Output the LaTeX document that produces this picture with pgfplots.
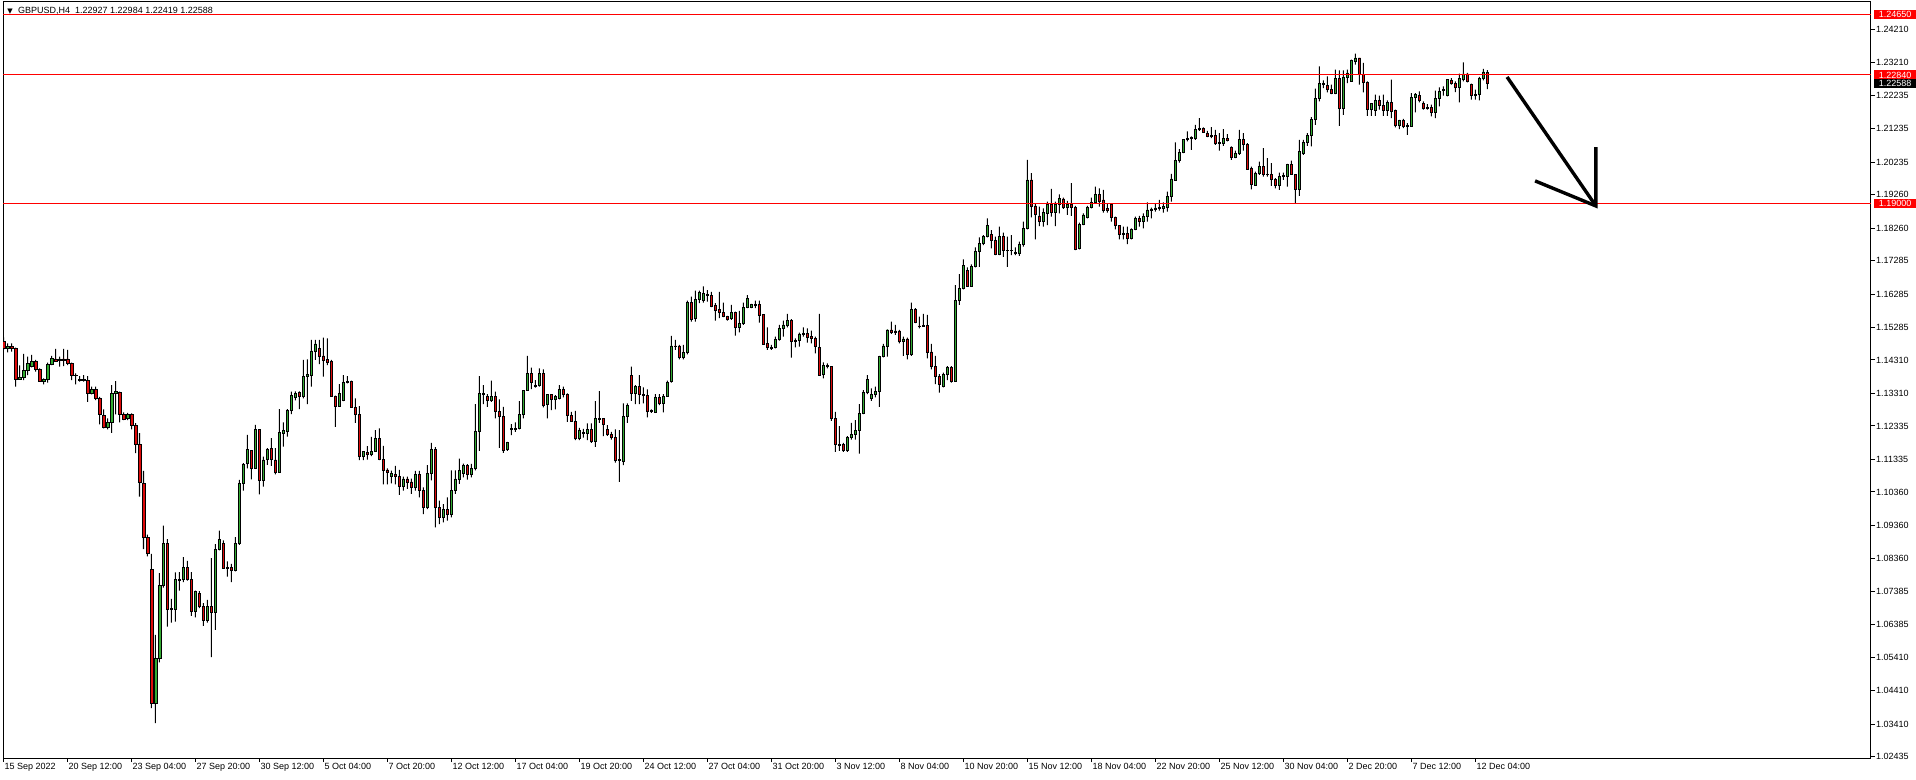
\documentclass[border=0pt]{standalone}
\usepackage{pgfplots}
\usepackage{pgfplotstable}
\pgfplotsset{compat=1.18}
\usepackage{fontspec}
\setmainfont{Liberation Sans}
\newfontfamily\dejavu{DejaVu Sans}
\definecolor{bull}{RGB}{50,170,50}
\definecolor{bear}{RGB}{220,10,10}
\definecolor{lvl}{RGB}{255,0,0}

\pgfplotstableread{
i o h l c
0 1.1486 1.1499 1.1461 1.1466
1 1.1466 1.1481 1.1454 1.1472
2 1.1472 1.1481 1.1456 1.1466
3 1.1466 1.1468 1.1351 1.1373
4 1.1373 1.1415 1.1372 1.1380
5 1.1379 1.1449 1.1371 1.1401
6 1.1401 1.1441 1.1386 1.1421
7 1.1411 1.1446 1.1409 1.1428
8 1.1428 1.1431 1.1396 1.1403
9 1.1404 1.1406 1.1366 1.1367
10 1.1367 1.1376 1.1358 1.1374
11 1.1373 1.1423 1.1363 1.1418
12 1.1418 1.1443 1.1416 1.1436
13 1.1434 1.1464 1.1426 1.1426
14 1.1431 1.1441 1.1411 1.1434
15 1.1434 1.1464 1.1413 1.1431
16 1.1434 1.1461 1.1416 1.1421
17 1.1421 1.1423 1.1371 1.1384
18 1.1384 1.1391 1.1358 1.1386
19 1.1374 1.1383 1.1366 1.1371
20 1.1371 1.1386 1.1366 1.1374
21 1.1371 1.1383 1.1306 1.1331
22 1.1331 1.1351 1.1328 1.1344
23 1.1344 1.1351 1.1311 1.1316
24 1.1316 1.1321 1.1238 1.1268
25 1.1264 1.1283 1.1226 1.1229
26 1.1229 1.1256 1.1223 1.1245
27 1.1245 1.1356 1.1213 1.1330
28 1.1330 1.1368 1.1268 1.1338
29 1.1335 1.1336 1.1244 1.1267
30 1.1267 1.1274 1.1251 1.1254
31 1.1257 1.1273 1.1251 1.1267
32 1.1267 1.1271 1.1223 1.1234
33 1.1234 1.1242 1.1152 1.1179
34 1.1179 1.1212 1.1022 1.1064
35 1.1062 1.1099 1.0865 1.0901
36 1.0901 1.0908 1.0843 1.0853
37 1.0805 1.0851 1.0389 1.0404
38 1.0404 1.0608 1.0344 1.0539
39 1.0539 1.0793 1.0526 1.0757
40 1.0757 1.0935 1.0750 1.0883
41 1.0883 1.0895 1.0633 1.0685
42 1.0685 1.0716 1.0645 1.0688
43 1.0685 1.0795 1.0648 1.0773
44 1.0773 1.0796 1.0741 1.0770
45 1.0773 1.0841 1.0766 1.0811
46 1.0811 1.0830 1.0771 1.0775
47 1.0775 1.0796 1.0665 1.0680
48 1.0680 1.0741 1.0661 1.0737
49 1.0733 1.0739 1.0688 1.0693
50 1.0693 1.0703 1.0635 1.0653
51 1.0653 1.0713 1.0645 1.0693
52 1.0693 1.0838 1.0542 1.0676
53 1.0676 1.0880 1.0623 1.0865
54 1.0865 1.0920 1.0861 1.0893
55 1.0883 1.0891 1.0808 1.0808
56 1.0808 1.0828 1.0783 1.0811
57 1.0811 1.0821 1.0766 1.0801
58 1.0801 1.0901 1.0798 1.0883
59 1.0883 1.1072 1.0878 1.1062
60 1.1062 1.1122 1.1040 1.1119
61 1.1122 1.1207 1.1107 1.1162
62 1.1159 1.1159 1.1074 1.1107
63 1.1107 1.1237 1.1105 1.1222
64 1.1222 1.1224 1.1029 1.1072
65 1.1072 1.1142 1.1052 1.1132
66 1.1132 1.1167 1.1117 1.1162
67 1.1167 1.1197 1.1114 1.1132
68 1.1132 1.1167 1.1089 1.1094
69 1.1094 1.1284 1.1094 1.1214
70 1.1212 1.1244 1.1172 1.1219
71 1.1217 1.1284 1.1202 1.1279
72 1.1279 1.1336 1.1269 1.1324
73 1.1320 1.1337 1.1310 1.1332
74 1.1334 1.1337 1.1284 1.1322
75 1.1321 1.1431 1.1316 1.1383
76 1.1381 1.1433 1.1299 1.1388
77 1.1386 1.1491 1.1351 1.1458
78 1.1458 1.1491 1.1431 1.1479
79 1.1466 1.1491 1.1419 1.1441
80 1.1443 1.1498 1.1381 1.1431
81 1.1433 1.1496 1.1416 1.1423
82 1.1426 1.1431 1.1321 1.1321
83 1.1323 1.1324 1.1231 1.1293
84 1.1291 1.1359 1.1291 1.1331
85 1.1309 1.1386 1.1308 1.1364
86 1.1363 1.1383 1.1361 1.1366
87 1.1368 1.1369 1.1288 1.1288
88 1.1288 1.1316 1.1243 1.1268
89 1.1268 1.1293 1.1131 1.1143
90 1.1143 1.1158 1.1131 1.1156
91 1.1153 1.1173 1.1133 1.1149
92 1.1149 1.1201 1.1143 1.1156
93 1.1156 1.1221 1.1156 1.1196
94 1.1196 1.1226 1.1131 1.1133
95 1.1134 1.1174 1.1059 1.1100
96 1.1102 1.1107 1.1059 1.1094
97 1.1082 1.1100 1.1062 1.1091
98 1.1089 1.1114 1.1059 1.1082
99 1.1082 1.1102 1.1027 1.1054
100 1.1054 1.1082 1.1040 1.1075
101 1.1075 1.1082 1.1045 1.1066
102 1.1066 1.1076 1.1030 1.1050
103 1.1050 1.1099 1.1040 1.1089
104 1.1089 1.1099 1.1020 1.1040
105 1.1040 1.1050 1.0970 1.0990
106 1.0990 1.1116 1.0985 1.1091
107 1.1091 1.1183 1.1071 1.1163
108 1.1163 1.1170 1.0930 1.0990
109 1.0990 1.1010 1.0940 1.0960
110 1.0960 1.1000 1.0945 1.0985
111 1.0985 1.1020 1.0950 1.0970
112 1.0970 1.1101 1.0960 1.1040
113 1.1040 1.1101 1.1030 1.1075
114 1.1075 1.1136 1.1060 1.1101
115 1.1093 1.1121 1.1080 1.1116
116 1.1116 1.1119 1.1073 1.1089
117 1.1089 1.1120 1.1080 1.1106
118 1.1106 1.1299 1.1101 1.1218
119 1.1216 1.1383 1.1159 1.1331
120 1.1331 1.1356 1.1299 1.1328
121 1.1323 1.1329 1.1291 1.1309
122 1.1309 1.1369 1.1306 1.1323
123 1.1323 1.1336 1.1256 1.1276
124 1.1276 1.1313 1.1168 1.1261
125 1.1263 1.1291 1.1153 1.1161
126 1.1163 1.1186 1.1159 1.1183
127 1.1223 1.1239 1.1206 1.1226
128 1.1226 1.1244 1.1216 1.1224
129 1.1226 1.1308 1.1223 1.1269
130 1.1269 1.1341 1.1256 1.1341
131 1.1341 1.1443 1.1339 1.1391
132 1.1391 1.1408 1.1344 1.1363
133 1.1356 1.1371 1.1348 1.1351
134 1.1354 1.1406 1.1351 1.1391
135 1.1391 1.1403 1.1289 1.1295
136 1.1298 1.1329 1.1256 1.1329
137 1.1329 1.1329 1.1281 1.1313
138 1.1313 1.1326 1.1283 1.1323
139 1.1315 1.1356 1.1313 1.1343
140 1.1343 1.1351 1.1319 1.1329
141 1.1329 1.1331 1.1246 1.1265
142 1.1265 1.1276 1.1246 1.1246
143 1.1246 1.1279 1.1191 1.1195
144 1.1195 1.1228 1.1191 1.1221
145 1.1213 1.1225 1.1199 1.1211
146 1.1211 1.1241 1.1191 1.1223
147 1.1223 1.1241 1.1183 1.1186
148 1.1186 1.1308 1.1171 1.1256
149 1.1256 1.1338 1.1243 1.1253
150 1.1256 1.1256 1.1203 1.1238
151 1.1223 1.1236 1.1204 1.1208
152 1.1208 1.1216 1.1193 1.1199
153 1.1199 1.1223 1.1124 1.1131
154 1.1131 1.1221 1.1066 1.1133
155 1.1129 1.1301 1.1116 1.1263
156 1.1261 1.1301 1.1243 1.1296
157 1.1384 1.1411 1.1309 1.1331
158 1.1331 1.1356 1.1299 1.1351
159 1.1351 1.1386 1.1299 1.1328
160 1.1329 1.1349 1.1301 1.1325
161 1.1325 1.1343 1.1259 1.1276
162 1.1276 1.1283 1.1273 1.1281
163 1.1274 1.1329 1.1273 1.1320
164 1.1320 1.1329 1.1296 1.1301
165 1.1301 1.1329 1.1274 1.1323
166 1.1323 1.1369 1.1321 1.1364
167 1.1366 1.1503 1.1363 1.1473
168 1.1473 1.1491 1.1461 1.1471
169 1.1473 1.1476 1.1433 1.1438
170 1.1438 1.1476 1.1433 1.1454
171 1.1454 1.1609 1.1448 1.1603
172 1.1603 1.1621 1.1546 1.1554
173 1.1556 1.1639 1.1546 1.1613
174 1.1611 1.1639 1.1601 1.1633
175 1.1608 1.1651 1.1603 1.1630
176 1.1628 1.1640 1.1606 1.1624
177 1.1625 1.1635 1.1589 1.1591
178 1.1593 1.1601 1.1549 1.1579
179 1.1581 1.1635 1.1556 1.1573
180 1.1574 1.1603 1.1559 1.1561
181 1.1561 1.1563 1.1549 1.1553
182 1.1556 1.1596 1.1551 1.1574
183 1.1574 1.1576 1.1504 1.1529
184 1.1529 1.1578 1.1514 1.1541
185 1.1541 1.1603 1.1536 1.1589
186 1.1589 1.1625 1.1586 1.1616
187 1.1589 1.1599 1.1586 1.1596
188 1.1596 1.1609 1.1586 1.1593
189 1.1596 1.1609 1.1543 1.1564
190 1.1566 1.1566 1.1476 1.1479
191 1.1481 1.1529 1.1461 1.1469
192 1.1469 1.1476 1.1461 1.1466
193 1.1469 1.1501 1.1466 1.1493
194 1.1493 1.1536 1.1489 1.1526
195 1.1526 1.1549 1.1501 1.1536
196 1.1536 1.1569 1.1529 1.1549
197 1.1549 1.1553 1.1438 1.1486
198 1.1486 1.1496 1.1469 1.1489
199 1.1489 1.1513 1.1471 1.1509
200 1.1509 1.1529 1.1501 1.1511
201 1.1511 1.1526 1.1483 1.1499
202 1.1501 1.1519 1.1481 1.1495
203 1.1496 1.1501 1.1451 1.1471
204 1.1469 1.1569 1.1384 1.1386
205 1.1388 1.1424 1.1376 1.1416
206 1.1416 1.1421 1.1406 1.1411
207 1.1413 1.1413 1.1249 1.1256
208 1.1256 1.1276 1.1156 1.1178
209 1.1179 1.1233 1.1159 1.1176
210 1.1179 1.1183 1.1156 1.1161
211 1.1161 1.1203 1.1156 1.1199
212 1.1199 1.1243 1.1193 1.1209
213 1.1209 1.1251 1.1193 1.1219
214 1.1219 1.1299 1.1151 1.1271
215 1.1271 1.1341 1.1269 1.1334
216 1.1334 1.1386 1.1329 1.1373
217 1.1316 1.1346 1.1309 1.1328
218 1.1328 1.1351 1.1319 1.1338
219 1.1336 1.1443 1.1291 1.1441
220 1.1441 1.1479 1.1439 1.1473
221 1.1471 1.1523 1.1441 1.1521
222 1.1521 1.1546 1.1509 1.1513
223 1.1513 1.1536 1.1506 1.1518
224 1.1518 1.1521 1.1481 1.1486
225 1.1486 1.1501 1.1443 1.1494
226 1.1494 1.1498 1.1433 1.1448
227 1.1448 1.1603 1.1443 1.1581
228 1.1581 1.1586 1.1541 1.1543
229 1.1533 1.1561 1.1526 1.1531
230 1.1531 1.1569 1.1531 1.1535
231 1.1535 1.1566 1.1436 1.1453
232 1.1455 1.1479 1.1403 1.1411
233 1.1413 1.1443 1.1359 1.1383
234 1.1383 1.1389 1.1333 1.1359
235 1.1351 1.1393 1.1349 1.1389
236 1.1389 1.1413 1.1371 1.1409
237 1.1409 1.1413 1.1363 1.1366
238 1.1366 1.1655 1.1366 1.1609
239 1.1609 1.1688 1.1596 1.1645
240 1.1645 1.1732 1.1642 1.1715
241 1.1700 1.1708 1.1650 1.1650
242 1.1650 1.1717 1.1650 1.1710
243 1.1710 1.1768 1.1708 1.1757
244 1.1757 1.1798 1.1710 1.1780
245 1.1780 1.1805 1.1775 1.1802
246 1.1802 1.1855 1.1798 1.1835
247 1.1807 1.1820 1.1765 1.1790
248 1.1790 1.1800 1.1745 1.1747
249 1.1747 1.1830 1.1745 1.1802
250 1.1802 1.1812 1.1740 1.1758
251 1.1758 1.1800 1.1710 1.1760
252 1.1760 1.1805 1.1745 1.1758
253 1.1753 1.1768 1.1745 1.1750
254 1.1750 1.1785 1.1743 1.1777
255 1.1777 1.1845 1.1770 1.1825
256 1.1825 1.2030 1.1822 1.1970
257 1.1970 1.1990 1.1858 1.1892
258 1.1892 1.1900 1.1792 1.1867
259 1.1862 1.1890 1.1832 1.1845
260 1.1845 1.1885 1.1830 1.1873
261 1.1870 1.1905 1.1835 1.1898
262 1.1898 1.1943 1.1860 1.1872
263 1.1872 1.1905 1.1832 1.1898
264 1.1898 1.1927 1.1870 1.1915
265 1.1913 1.1917 1.1883 1.1887
266 1.1888 1.1907 1.1865 1.1898
267 1.1898 1.1960 1.1862 1.1888
268 1.1888 1.1892 1.1760 1.1763
269 1.1765 1.1842 1.1762 1.1837
270 1.1837 1.1870 1.1835 1.1865
271 1.1858 1.1892 1.1855 1.1888
272 1.1888 1.1917 1.1885 1.1903
273 1.1903 1.1950 1.1900 1.1927
274 1.1927 1.1945 1.1890 1.1905
275 1.1910 1.1940 1.1872 1.1878
276 1.1885 1.1900 1.1872 1.1878
277 1.1898 1.1900 1.1845 1.1858
278 1.1858 1.1860 1.1822 1.1833
279 1.1833 1.1835 1.1792 1.1807
280 1.1807 1.1830 1.1792 1.1810
281 1.1810 1.1830 1.1778 1.1795
282 1.1795 1.1825 1.1792 1.1822
283 1.1822 1.1860 1.1820 1.1855
284 1.1855 1.1862 1.1830 1.1847
285 1.1847 1.1870 1.1825 1.1860
286 1.1860 1.1903 1.1845 1.1880
287 1.1878 1.1887 1.1855 1.1883
288 1.1882 1.1898 1.1875 1.1886
289 1.1886 1.1910 1.1878 1.1887
290 1.1885 1.1903 1.1872 1.1890
291 1.1888 1.1935 1.1875 1.1920
292 1.1920 1.1988 1.1905 1.1973
293 1.1970 1.2082 1.1967 1.2028
294 1.2028 1.2062 1.2022 1.2052
295 1.2052 1.2092 1.2050 1.2090
296 1.2090 1.2115 1.2085 1.2095
297 1.2094 1.2100 1.2060 1.2097
298 1.2094 1.2135 1.2090 1.2120
299 1.2120 1.2155 1.2117 1.2125
300 1.2125 1.2127 1.2112 1.2113
301 1.2110 1.2117 1.2098 1.2100
302 1.2100 1.2128 1.2095 1.2102
303 1.2102 1.2120 1.2075 1.2080
304 1.2080 1.2110 1.2058 1.2082
305 1.2080 1.2122 1.2072 1.2095
306 1.2095 1.2107 1.2085 1.2088
307 1.2068 1.2070 1.2030 1.2038
308 1.2038 1.2058 1.2035 1.2050
309 1.2050 1.2120 1.2045 1.2090
310 1.2090 1.2110 1.2058 1.2077
311 1.2077 1.2080 1.2000 1.2002
312 1.2003 1.2010 1.1942 1.1957
313 1.1955 1.1995 1.1952 1.1990
314 1.1990 1.2025 1.1985 1.2010
315 1.2010 1.2065 1.1980 1.1987
316 1.1987 1.2035 1.1980 1.1985
317 1.1987 1.2020 1.1952 1.1972
318 1.1972 1.1975 1.1945 1.1953
319 1.1953 1.1992 1.1940 1.1980
320 1.1980 1.1992 1.1970 1.1982
321 1.1980 1.2018 1.1950 1.2017
322 1.2017 1.2028 1.1985 1.1987
323 1.1987 1.1987 1.1900 1.1942
324 1.1942 1.2090 1.1922 1.2055
325 1.2048 1.2090 1.2045 1.2082
326 1.2082 1.2110 1.2072 1.2103
327 1.2103 1.2158 1.2070 1.2152
328 1.2152 1.2243 1.2135 1.2215
329 1.2215 1.2310 1.2205 1.2260
330 1.2255 1.2268 1.2245 1.2260
331 1.2253 1.2280 1.2232 1.2242
332 1.2242 1.2255 1.2227 1.2228
333 1.2228 1.2300 1.2227 1.2275
334 1.2275 1.2298 1.2132 1.2185
335 1.2185 1.2298 1.2165 1.2278
336 1.2278 1.2300 1.2260 1.2290
337 1.2265 1.2330 1.2265 1.2327
338 1.2325 1.2348 1.2315 1.2335
339 1.2335 1.2335 1.2255 1.2285
340 1.2285 1.2320 1.2232 1.2262
341 1.2262 1.2265 1.2162 1.2182
342 1.2182 1.2200 1.2162 1.2198
343 1.2178 1.2225 1.2162 1.2208
344 1.2208 1.2222 1.2180 1.2193
345 1.2194 1.2225 1.2162 1.2178
346 1.2178 1.2208 1.2162 1.2203
347 1.2203 1.2270 1.2155 1.2175
348 1.2177 1.2180 1.2127 1.2132
349 1.2132 1.2150 1.2122 1.2147
350 1.2147 1.2153 1.2125 1.2130
351 1.2130 1.2140 1.2105 1.2132
352 1.2130 1.2230 1.2130 1.2218
353 1.2218 1.2230 1.2172 1.2225
354 1.2224 1.2235 1.2202 1.2207
355 1.2200 1.2205 1.2180 1.2183
356 1.2188 1.2197 1.2180 1.2183
357 1.2188 1.2195 1.2160 1.2172
358 1.2172 1.2237 1.2155 1.2215
359 1.2215 1.2247 1.2190 1.2235
360 1.2237 1.2250 1.2222 1.2240
361 1.2223 1.2272 1.2220 1.2270
362 1.2268 1.2275 1.2255 1.2260
363 1.2260 1.2265 1.2233 1.2247
364 1.2247 1.2288 1.2202 1.2273
365 1.2272 1.2322 1.2265 1.2287
366 1.2287 1.2290 1.2262 1.2265
367 1.2255 1.2258 1.2210 1.2223
368 1.2227 1.2240 1.2210 1.2223
369 1.2227 1.2278 1.2208 1.2275
370 1.2275 1.2302 1.2268 1.2293
371 1.22927 1.22984 1.22419 1.22588
}\data

\pgfplotsset{
  mt4/.style={
    scale only axis, width=1868pt, height=756pt,
    at={(3pt,21pt)}, anchor=south west,
    xmin=-0.125, xmax=466.875, ymin=1.02398, ymax=1.25025,
    enlargelimits=false,
  },
}

\begin{document}
\begin{tikzpicture}
\useasboundingbox[fill=white] (0,0) rectangle (1916pt,779pt);

% frame, ticks and labels
\begin{axis}[mt4,
  axis line style={black, line width=1pt},
  tick style={black, line width=1pt},
  tick align=outside,
  major tick length=4pt,
  xtick pos=bottom, ytick pos=right,
  yticklabel pos=right,
  xtick={0,16,32,48,64,80,96,112,128,144,160,176,192,208,224,240,256,272,288,304,320,336,352,368},
  xticklabels={15 Sep 2022,20 Sep 12:00,23 Sep 04:00,27 Sep 20:00,30 Sep 12:00,5 Oct 04:00,7 Oct 20:00,12 Oct 12:00,17 Oct 04:00,19 Oct 20:00,24 Oct 12:00,27 Oct 04:00,31 Oct 20:00,3 Nov 12:00,8 Nov 04:00,10 Nov 20:00,15 Nov 12:00,18 Nov 04:00,22 Nov 20:00,25 Nov 12:00,30 Nov 04:00,2 Dec 20:00,7 Dec 12:00,12 Dec 04:00},
  ytick={1.24210,1.23210,1.22235,1.21235,1.20235,1.19260,1.18260,1.17285,1.16285,1.15285,1.14310,1.13310,1.12335,1.11335,1.10360,1.09360,1.08360,1.07385,1.06385,1.05410,1.04410,1.03410,1.02435},
  yticklabels={1.24210,1.23210,1.22235,1.21235,1.20235,1.19260,1.18260,1.17285,1.16285,1.15285,1.14310,1.13310,1.12335,1.11335,1.10360,1.09360,1.08360,1.07385,1.06385,1.05410,1.04410,1.03410,1.02435},
  tick label style={font=\fontsize{9}{10}\selectfont, inner sep=0pt},
  xticklabel style={anchor=north west, xshift=1pt, yshift=-1pt},
  yticklabel style={anchor=west, xshift=1pt},
]
\addplot[draw=none, forget plot] coordinates {(0,1.1) (1,1.1)};
\end{axis}

% wicks
\begin{axis}[mt4, hide axis, ybar stacked, bar width=1pt]
\addplot[draw=none, fill=none] table[x=i, y=l] {\data};
\addplot[draw=none, fill=black] table[x=i, y expr={\thisrow{h}-\thisrow{l}}] {\data};
\end{axis}

% bodies
\begin{axis}[mt4, hide axis, ybar stacked, bar width=2.8pt]
\addplot[draw=none, fill=none] table[x=i, y expr={min(\thisrow{o},\thisrow{c})}] {\data};
\addplot[draw=black, line width=0.8pt, fill=bull] table[x=i, y expr={max(\thisrow{c}-\thisrow{o},0)}] {\data};
\addplot[draw=black, line width=0.8pt, fill=bear] table[x=i, y expr={max(\thisrow{o}-\thisrow{c},0)}] {\data};
\end{axis}

% levels, arrow, price boxes, title
\begin{axis}[mt4, hide axis, clip=false]
\addplot[lvl, line width=1pt] coordinates {(-0.125,1.24650) (466.875,1.24650)};
\addplot[lvl, line width=1pt] coordinates {(-0.125,1.22840) (466.875,1.22840)};
\addplot[lvl, line width=1pt] coordinates {(-0.125,1.19000) (466.875,1.19000)};
\addplot[black, line width=3.4pt] coordinates {(375.9,1.2278) (398.1,1.1892)};
\addplot[black, line width=3.4pt, line join=miter] coordinates {(382.9,1.1967) (398.1,1.1892) (398.1,1.2068)};
\node[fill=lvl, text=white, anchor=west, inner sep=0pt, minimum width=42pt, minimum height=9.5pt, font=\fontsize{9}{10}\selectfont] at ([xshift=3pt]axis cs:466.875,1.24650) {1.24650};
\node[fill=lvl, text=white, anchor=west, inner sep=0pt, minimum width=42pt, minimum height=9.5pt, font=\fontsize{9}{10}\selectfont] at ([xshift=3pt]axis cs:466.875,1.22840) {1.22840};
\node[fill=black, text=white, anchor=west, inner sep=0pt, minimum width=42pt, minimum height=9.5pt, font=\fontsize{9}{10}\selectfont] at ([xshift=3pt]axis cs:466.875,1.22588) {1.22588};
\node[fill=lvl, text=white, anchor=west, inner sep=0pt, minimum width=42pt, minimum height=9.5pt, font=\fontsize{9}{10}\selectfont] at ([xshift=3pt]axis cs:466.875,1.19000) {1.19000};
\node[anchor=center, inner sep=0pt, font=\dejavu\fontsize{7}{8}\selectfont] at ([xshift=7pt,yshift=-9.5pt]rel axis cs:0,1) {▼};
\node[anchor=west, inner sep=0pt, font=\fontsize{9}{10}\selectfont] at ([xshift=15pt,yshift=-9pt]rel axis cs:0,1) {GBPUSD,H4\ \ 1.22927 1.22984 1.22419 1.22588};
\end{axis}
\end{tikzpicture}
\end{document}
